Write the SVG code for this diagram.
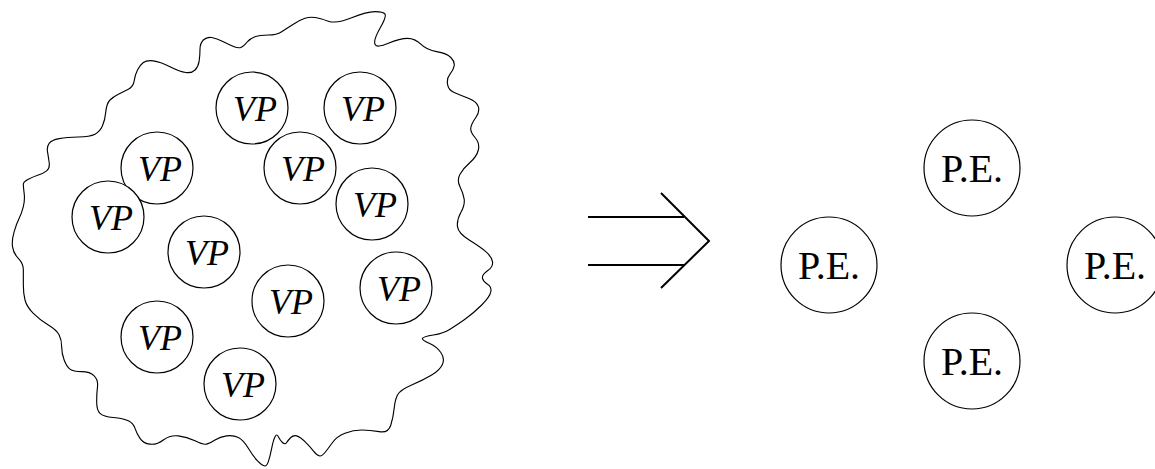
<svg xmlns="http://www.w3.org/2000/svg" width="1155" height="469" viewBox="0 0 1155 469">
  <style>
    .ring { fill: #fff; stroke: #000; stroke-width: 1.2; }
    .vp { font-family: "Liberation Serif", "DejaVu Serif", serif; font-style: italic; font-size: 36px; text-anchor: middle; fill: #000; }
    .pe { font-family: "Liberation Serif", "DejaVu Serif", serif; font-size: 40px; text-anchor: middle; fill: #000; }
    .arrow { fill: none; stroke: #000; stroke-width: 2; stroke-linecap: butt; }
  </style>

  <!-- wavy boundary around the pool of virtual processors (drawn at 3x, scaled down) -->
  <g id="pool">
    <path transform="scale(0.333333)" fill="none" stroke="#000" stroke-width="3.4" stroke-linejoin="round"
      d="M985,63.5 Q1010,72 1055,53.5 Q1100,35 1125,35 Q1150,35 1155,42.5 Q1160,50 1140,85 Q1120,120 1125,132.5 Q1130,145 1165,130 Q1200,115 1222.5,115 Q1245,115 1262.5,132.5 Q1280,150 1310,155 Q1340,160 1352.5,172.5 Q1365,185 1362.5,197.5 Q1360,210 1350,222.5 Q1340,235 1342.5,252.5 Q1345,270 1362.5,277.5 Q1380,285 1405,295 Q1430,305 1435,320 Q1440,335 1427.5,352.5 Q1415,370 1412.5,382.5 Q1410,395 1425,412.5 Q1440,430 1435,450 Q1430,470 1410,487.5 Q1390,505 1380,522.5 Q1370,540 1380,560 Q1390,580 1392.5,597.5 Q1395,615 1382.5,637.5 Q1370,660 1372.5,680 Q1375,700 1407.5,720 Q1440,740 1457.5,755 Q1475,770 1477.5,785 Q1480,800 1462.5,812.5 Q1445,825 1447.5,835 Q1450,845 1462.5,852.5 Q1475,860 1472.5,875 Q1470,890 1445,915 Q1420,940 1395,957.5 Q1370,975 1350,987.5 Q1330,1000 1300,1005 Q1270,1010 1267.5,1015 Q1265,1020 1287.5,1030 Q1310,1040 1322.5,1057.5 Q1335,1075 1327.5,1092.5 Q1320,1110 1295,1125 Q1270,1140 1235,1155 Q1200,1170 1192.5,1185 Q1185,1200 1182.5,1225 Q1180,1250 1172.5,1275 Q1165,1300 1137.5,1295 Q1110,1290 1085,1290 Q1060,1290 1035,1300 Q1010,1310 997.5,1327.5 Q985,1345 975,1357.5 Q965,1370 957.5,1367.5 Q950,1365 940,1352.5 Q930,1340 915,1325 Q900,1310 890,1307.5 Q880,1305 872.5,1312.5 Q865,1320 860,1327.5 Q855,1335 847.5,1327.5 Q840,1320 835,1310 Q830,1300 825,1310 Q820,1320 815,1345 Q810,1370 805,1385 Q800,1400 792.5,1397.5 Q785,1395 772.5,1382.5 Q760,1370 745,1345 Q730,1320 715,1312.5 Q700,1305 680,1307.5 Q660,1310 645,1320 Q630,1330 620,1332.5 Q610,1335 585,1322.5 Q560,1310 535,1307.5 Q510,1305 490,1320 Q470,1335 450,1332.5 Q430,1330 420,1315 Q410,1300 405,1285 Q400,1270 385,1262.5 Q370,1255 340,1252.5 Q310,1250 300,1240 Q290,1230 290,1205 Q290,1180 292.5,1160 Q295,1140 282.5,1127.5 Q270,1115 245,1115 Q220,1115 210,1107.5 Q200,1100 192.5,1080 Q185,1060 185,1040 Q185,1020 177.5,1005 Q170,990 145,975 Q120,960 100,940 Q80,920 75,900 Q70,880 70,855 Q70,830 70,810 Q70,790 55,775 Q40,760 37.5,740 Q35,720 42.5,695 Q50,670 57.5,655 Q65,640 70,620 Q75,600 72.5,580 Q70,560 70,552.5 Q70,545 85,537.5 Q100,530 115,525 Q130,520 140,512.5 Q150,505 147.5,487.5 Q145,470 142.5,455 Q140,440 147.5,430 Q155,420 177.5,416 Q200,412 235,411 Q270,410 285,402.5 Q300,395 307.5,377.5 Q315,360 317.5,335 Q320,310 330,300 Q340,290 355,282.5 Q370,275 385,267.5 Q400,260 402.5,242.5 Q405,225 412.5,210 Q420,195 430,187.5 Q440,180 460,182.5 Q480,185 510,200 Q540,215 557.5,217.5 Q575,220 585,210 Q595,200 597.5,182.5 Q600,165 600,147.5 Q600,130 610,120 Q620,110 635,112.5 Q650,115 670,125 Q690,135 702.5,140 Q715,145 722.5,142.5 Q730,140 740,127.5 Q750,115 765,110 Q780,105 805,105 Q830,105 845,95 Q860,85 880,72.5 Q900,60 915,55 Q930,50 945,52.5 Q960,55 985,63.5 Z"/>
  </g>

  <!-- virtual processors -->
  <g id="vp1"><circle class="ring" cx="252" cy="108" r="36"/><text class="vp" x="255" y="121">VP</text></g>
  <g id="vp2"><circle class="ring" cx="360" cy="108" r="36"/><text class="vp" x="363" y="121">VP</text></g>
  <g id="vp3"><circle class="ring" cx="157" cy="168" r="36"/><text class="vp" x="160" y="181">VP</text></g>
  <g id="vp4"><circle class="ring" cx="108" cy="217" r="36"/><text class="vp" x="111" y="230">VP</text></g>
  <g id="vp5"><circle class="ring" cx="300" cy="168" r="36"/><text class="vp" x="303" y="181">VP</text></g>
  <g id="vp6"><circle class="ring" cx="372" cy="204" r="36"/><text class="vp" x="375" y="217">VP</text></g>
  <g id="vp7"><circle class="ring" cx="204" cy="252" r="36"/><text class="vp" x="207" y="265">VP</text></g>
  <g id="vp8"><circle class="ring" cx="288" cy="301" r="36"/><text class="vp" x="291" y="314">VP</text></g>
  <g id="vp9"><circle class="ring" cx="396" cy="288" r="36"/><text class="vp" x="399" y="301">VP</text></g>
  <g id="vp10"><circle class="ring" cx="157" cy="337" r="36"/><text class="vp" x="160" y="350">VP</text></g>
  <g id="vp11"><circle class="ring" cx="240" cy="384" r="36"/><text class="vp" x="243" y="397">VP</text></g>

  <!-- double arrow (implies) -->
  <g id="connectors">
    <line class="arrow" x1="588" y1="217" x2="684" y2="217"/>
    <line class="arrow" x1="588" y1="265" x2="684" y2="265"/>
    <polyline class="arrow" points="661,193 709,241 661,288"/>
  </g>

  <!-- processing elements -->
  <g id="pe-top"><circle class="ring" cx="972" cy="168" r="48"/><text class="pe" x="972" y="182">P.E.</text></g>
  <g id="pe-left"><circle class="ring" cx="829" cy="265" r="48"/><text class="pe" x="829" y="279">P.E.</text></g>
  <g id="pe-right"><circle class="ring" cx="1115" cy="265" r="48"/><text class="pe" x="1115" y="279">P.E.</text></g>
  <g id="pe-bottom"><circle class="ring" cx="972" cy="361" r="48"/><text class="pe" x="972" y="375">P.E.</text></g>
</svg>
